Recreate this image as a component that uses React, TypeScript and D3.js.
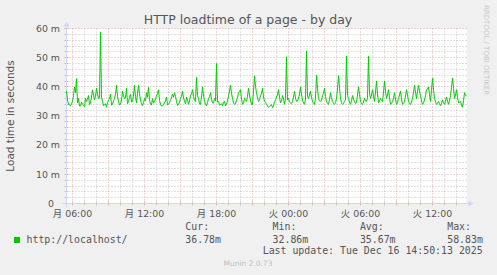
import React from "react";
import * as d3 from "d3";

// ---- data (5-minute samples, Mon 05:30 -> Tue 14:50) ----
const loadTimes: number[] = [
  38.5, 35.5, 34, 33.8, 33.5, 34.2, 35, 37, 40, 38, 42.8, 34.5, 36, 33.4, 33.5, 34.8, 34, 33.6, 33.2, 36,
  35, 35.8, 37, 33.9, 34.5, 36.5, 39, 37.2, 35.5, 36.8, 39.5, 37.5, 36, 36.2, 58.83, 36.5, 35, 33.5, 34, 34.2,
  33, 34.6, 35.5, 35.8, 37.5, 33.7, 34, 35.2, 36, 37.5, 40.5, 36.8, 35, 33.8, 34, 35.5, 38.5, 37, 36, 36.2,
  39.5, 34.2, 35, 36.4, 37.5, 34.8, 35, 37.2, 40.5, 36.6, 34.5, 37.8, 40.5, 37.6, 35.5, 34.2, 33.5, 34.6, 36, 35.2,
  38, 36.4, 39.8, 35.6, 34, 33.8, 36, 34.4, 35, 35.8, 37, 37.6, 39, 35.4, 34, 33.4, 33.5, 33.9, 34.5, 35.2,
  36.5, 33.8, 34, 34.6, 35.5, 36.2, 37.5, 36.4, 38, 36.8, 35, 33.6, 34, 34.8, 36, 36.8, 38.5, 36.2, 35, 34.2,
  36.5, 35.4, 34, 35.2, 37, 37.6, 39, 36.8, 35.5, 35, 43.2, 37, 36, 34.2, 34, 36.5, 40, 37.2, 35, 34.1,
  33.5, 34.6, 36, 36.6, 38, 35.8, 34.5, 34.4, 36, 35.2, 48, 34.8, 35, 33.7, 34, 34.2, 33.5, 34.8, 35, 33.5,
  34, 35.2, 37, 38.6, 40.5, 37.8, 36, 34.5, 34, 34.2, 35.5, 36.2, 38, 38.4, 39, 35.8, 34, 34.4, 36, 35.6,
  35, 36.8, 39.5, 37.2, 35.5, 33.9, 34, 38.2, 43.8, 40.2, 38, 36.2, 35, 35.4, 37, 37.8, 39.5, 36.5, 35, 34.6,
  34, 33.4, 33, 33.2, 33.5, 33.9, 32.86, 33.5, 35, 35.4, 36.5, 37.2, 39, 36.4, 34.5, 35.2, 37, 35.8, 34, 36,
  50.3, 35.5, 36, 34.8, 34.5, 34.2, 35, 36.4, 38.5, 36.2, 35, 35.2, 36, 37.6, 40, 37.5, 35.5, 34.4, 34, 35.8,
  52.3, 36.8, 36, 37.2, 38.5, 36.4, 35, 34.3, 34, 36, 44, 39.5, 36, 35.2, 35, 35.4, 37, 37.8, 39.5, 36.7,
  35, 34.3, 34, 35.6, 38, 36.2, 35, 34.3, 34, 34.6, 36, 39.2, 43.8, 39.5, 36, 34.5, 34, 34.3, 35, 35.6,
  50.5, 37, 36, 34.8, 34, 35.2, 37, 35.8, 35, 34.2, 34.5, 37.2, 40, 37.4, 35, 34.3, 34, 34.8, 36, 35.2,
  35, 36.2, 50.5, 38, 36, 37.2, 39, 36.8, 35, 38.2, 42, 37.6, 34.5, 35.1, 36, 35.3, 35, 38.2, 42, 38.5,
  36, 37.2, 39, 36.2, 34, 34.3, 35, 36.2, 38, 35.8, 34, 34.6, 36, 37.2, 38.5, 35.8, 34, 34.3, 35, 36.8,
  39, 37.2, 35, 34.3, 34, 34.8, 36, 38, 40.5, 38.2, 36, 38.4, 40.5, 38.6, 37, 35.2, 34, 34.5, 35.5, 37,
  39, 39.2, 40, 37.4, 35, 38.8, 43, 39.2, 36, 34.8, 34, 34.3, 35, 34.2, 33.5, 34.2, 35.5, 34.6, 34, 35,
  36.5, 35.1, 34, 35.2, 37, 39.8, 43, 39.5, 36, 37.2, 39, 36.4, 34.5, 34.6, 35, 33.8, 33, 35.2, 38, 37.2,
  36.78,
];
const startTime = new Date(2025, 11, 15, 5, 30);
const endTime = new Date(2025, 11, 16, 14, 50);
const stepMinutes = 5;

const xTickLabels = ["月 06:00", "月 12:00", "月 18:00", "火 00:00", "火 06:00", "火 12:00"];
const yTickValues = [0, 10, 20, 30, 40, 50, 60];
const yTickLabels = ["0\u00A0\u00A0", "10 m", "20 m", "30 m", "40 m", "50 m", "60 m"];

const seriesName = "http://localhost/";
const legendHeaders = ["Cur:", "Min:", "Avg:", "Max:"];
const legendValues = ["36.78m", "32.86m", "35.67m", "58.83m"];

const title = "HTTP loadtime of a page - by day";
const yAxisTitle = "Load time in seconds";
const lastUpdate = "Last update: Tue Dec 16 14:50:13 2025";
const footer = "Munin 2.0.73";
const sideText = "RRDTOOL / TOBI OETIKER";

export default function App() {
  const W = 497, H = 275;
  const left = 66.5, right = 466.5, top = 28.5, bottom = 203.5;
  const x = d3.scaleTime().domain([startTime, endTime]).range([left, right]);
  const y = d3.scaleLinear().domain([0, 60]).range([bottom, top]);

  const pts = loadTimes.map((v, i) => ({
    t: new Date(startTime.getTime() + i * stepMinutes * 60000),
    v,
  }));
  const line = d3
    .line<{ t: Date; v: number }>()
    .x((d) => x(d.t))
    .y((d) => y(d.v));

  const hours = d3.timeHour.range(startTime, endTime);
  const majorHours = hours.filter((h) => h.getHours() % 3 === 0);
  const minorHours = hours.filter((h) => h.getHours() % 3 !== 0);
  const labelHours = hours.filter((h) => h.getHours() % 6 === 0);
  const minorY = d3.range(2, 60, 2).filter((v) => v % 10 !== 0);
  const majorY = yTickValues.filter((v) => v > 0);

  const font = "'DejaVu Sans', 'Noto Sans CJK JP', sans-serif";
  const mono = "'DejaVu Sans Mono', monospace";
  const textColor = "#555";
  const axisColor = "#CFD6F8";
  const minorColor = "#C4C4C4";
  const majorColor = "#E6A8A8";
  const px = (v: number) => Math.round(v - 0.5) + 0.5;

  return (
    <svg width={W} height={H} style={{ position: "absolute", left: 0, top: 0, background: "#F0F0F0" }}>
      <rect x={0} y={0} width={W} height={H} fill="#F0F0F0" />
      <rect x={left} y={top} width={right - left} height={bottom - top} fill="#FFFFFF" />

      {/* minor grid */}
      {minorY.map((v) => (
        <line key={"my" + v} x1={left} x2={right} y1={px(y(v))} y2={px(y(v))} stroke={minorColor} strokeWidth={1} strokeDasharray="1,2" />
      ))}
      {minorHours.map((h) => (
        <line key={"mx" + h.getTime()} x1={px(x(h))} x2={px(x(h))} y1={top} y2={bottom} stroke={minorColor} strokeWidth={1} strokeDasharray="1,2" />
      ))}
      {/* major grid */}
      {majorY.map((v) => (
        <line key={"My" + v} x1={left} x2={right} y1={px(y(v))} y2={px(y(v))} stroke={majorColor} strokeWidth={1} strokeDasharray="1,2" />
      ))}
      {majorHours.map((h) => (
        <line key={"Mx" + h.getTime()} x1={px(x(h))} x2={px(x(h))} y1={top} y2={bottom} stroke={majorColor} strokeWidth={1} strokeDasharray="1,2" />
      ))}

      {/* axis ticks */}
      {hours.map((h) => (
        <line key={"tx" + h.getTime()} x1={px(x(h))} x2={px(x(h))} y1={bottom - 2} y2={bottom + 2}
          stroke={h.getHours() % 3 === 0 ? majorColor : minorColor} strokeWidth={1} />
      ))}
      {d3.range(0, 62, 2).map((v) => (
        <line key={"ty" + v} x1={left - 2} x2={left + 2} y1={px(y(v))} y2={px(y(v))} stroke={v % 10 === 0 ? majorColor : minorColor} strokeWidth={1} />
      ))}

      {/* axes */}
      <line x1={left} x2={left} y1={bottom + 4} y2={top - 3} stroke={axisColor} strokeWidth={1} />
      <path d={`M${left - 3},${top - 2}L${left + 3},${top - 2}L${left},${top - 7}Z`} fill={axisColor} />
      <line x1={left - 4} x2={right + 3} y1={bottom} y2={bottom} stroke={axisColor} strokeWidth={1} />
      <path d={`M${right + 2},${bottom - 3}L${right + 2},${bottom + 3}L${right + 7},${bottom}Z`} fill={axisColor} />

      {/* data line */}
      <path d={line(pts) || ""} fill="none" stroke="#00CC00" strokeWidth={1} />

      {/* y tick labels */}
      {yTickValues.map((v, i) => (
        <text key={"yl" + v} x={60} y={y(v) + 3.3} textAnchor="end" fontFamily={font} fontSize={9.4} fill={textColor} style={{ whiteSpace: "pre" }}>
          {yTickLabels[i]}
        </text>
      ))}
      {/* x tick labels */}
      {labelHours.map((h, i) => (
        <text key={"xl" + i} x={x(h)} y={217} textAnchor="middle" fontFamily={font} fontSize={9.4} fill={textColor}>
          {xTickLabels[i]}
        </text>
      ))}

      {/* titles */}
      <text x={248} y={23.5} textAnchor="middle" fontFamily={font} fontSize={12.5} fill={textColor}>{title}</text>
      <text transform={`translate(14,${(top + bottom) / 2}) rotate(-90)`} textAnchor="middle" fontFamily={font} fontSize={10.5} fill={textColor}>{yAxisTitle}</text>
      <text transform={`translate(484,5) rotate(90)`} textAnchor="start" fontFamily={font} fontSize={7} fill="#C8C8C8">{sideText}</text>

      {/* legend */}
      <rect x={14} y={237} width={6} height={6} fill="#00CC00" />
      <text x={26.5} y={242.7} fontFamily={mono} fontSize={9.9} fill={textColor}>{seriesName}</text>
      {legendHeaders.map((hd, i) => (
        <g key={hd}>
          <text x={185.3 + i * 87.3} y={230} fontFamily={mono} fontSize={9.9} fill={textColor}>{hd}</text>
          <text x={185.3 + i * 87.3} y={242.7} fontFamily={mono} fontSize={9.9} fill={textColor}>{legendValues[i]}</text>
        </g>
      ))}
      <text x={482.7} y={254.3} textAnchor="end" fontFamily={mono} fontSize={9.9} fill={textColor}>{lastUpdate}</text>
      <text x={248} y={266} textAnchor="middle" fontFamily={font} fontSize={7.5} fill="#C0C0C0">{footer}</text>
    </svg>
  );
}
